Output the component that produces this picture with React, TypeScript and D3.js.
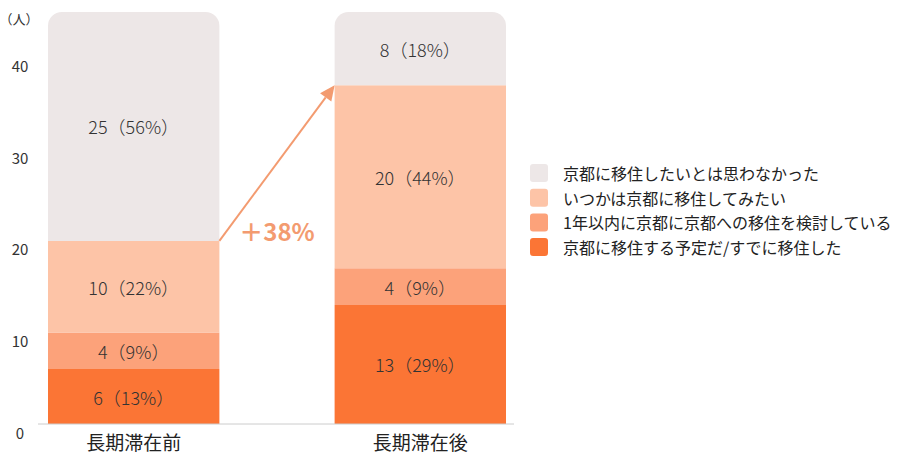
import React from 'react';
import * as d3 from 'd3';

const categories = ['長期滞在前', '長期滞在後'];
const seriesNames = [
  '京都に移住する予定だ/すでに移住した',
  '1年以内に京都に京都への移住を検討している',
  'いつかは京都に移住してみたい',
  '京都に移住したいとは思わなかった',
];
const seriesColors = ['#FB7535', '#FCA27A', '#FDC4A7', '#EDE7E7'];
const countsBefore = [6, 4, 10, 25];
const countsAfter = [13, 4, 20, 8];
const pctBefore = [13, 9, 22, 56];
const pctAfter = [29, 9, 44, 18];
const yTicks = [0, 10, 20, 30, 40];
const changeLabel = '＋38%';

const W = 906;
const H = 457;
const FONT = '"Noto Sans CJK JP", "Noto Sans", sans-serif';

const App: React.FC = () => {
  const y = d3.scaleLinear().domain([0, 45]).range([424, 12]);
  const x = d3.scaleBand().domain(categories).range([48, 506]).paddingInner(0.402).paddingOuter(0);
  const bw = x.bandwidth();
  const r = 14;

  const cols = [
    { name: categories[0], counts: countsBefore, pcts: pctBefore },
    { name: categories[1], counts: countsAfter, pcts: pctAfter },
  ];

  const stacked = cols.map(c => {
    const ends = d3.cumsum(c.counts);
    return c.counts.map((v, i) => ({ v, p: c.pcts[i], y0: ends[i] - v, y1: ends[i], i }));
  });

  const segPath = (x0: number, yTop: number, yBot: number, round: boolean) => {
    const p = d3.path();
    if (round) {
      p.moveTo(x0, yBot);
      p.lineTo(x0, yTop + r);
      p.arcTo(x0, yTop, x0 + r, yTop, r);
      p.lineTo(x0 + bw - r, yTop);
      p.arcTo(x0 + bw, yTop, x0 + bw, yTop + r, r);
      p.lineTo(x0 + bw, yBot);
      p.closePath();
    } else {
      p.rect(x0, yTop, bw, yBot - yTop);
    }
    return p.toString();
  };

  // arrow from top of "interested" group before to top of the same group after
  const leftX = (x(categories[0]) || 0) + bw;
  const rightX = x(categories[1]) || 0;
  const aStart: [number, number] = [leftX, y(d3.sum(countsBefore.slice(0, 3)))];
  const aEnd: [number, number] = [rightX, y(d3.sum(countsAfter.slice(0, 3)))];
  const ang = Math.atan2(aEnd[1] - aStart[1], aEnd[0] - aStart[0]);
  const hl = 15;
  const hw = 7;
  const bx = aEnd[0] - hl * Math.cos(ang);
  const by = aEnd[1] - hl * Math.sin(ang);
  const head = [
    aEnd,
    [bx + hw * Math.sin(ang), by - hw * Math.cos(ang)],
    [bx - hw * Math.sin(ang), by + hw * Math.cos(ang)],
  ];
  const arrowColor = '#F39B70';

  return (
    <svg width={W} height={H} style={{ position: 'absolute', left: 0, top: 0 }} fontFamily={FONT}>
      <rect width={W} height={H} fill="#fff" />
      {yTicks.map(t => (
        <text key={t} x={20} y={y(t) + 8} textAnchor="middle" dominantBaseline="central" fontSize={15} fill="#333">
          {t}
        </text>
      ))}
      <text x={19} y={18} textAnchor="middle" dominantBaseline="central" fontSize={13} fill="#333">（人）</text>

      {stacked.map((segs, ci) => {
        const x0 = x(categories[ci]) || 0;
        return (
          <g key={ci}>
            {segs.map(s => (
              <path key={s.i} d={segPath(x0, y(s.y1), y(s.y0), s.i === segs.length - 1)} fill={seriesColors[s.i]} />
            ))}
            {segs.map(s => (
              <text
                key={'t' + s.i}
                x={x0 + bw / 2}
                y={(y(s.y1) + y(s.y0)) / 2}
                textAnchor="middle"
                dominantBaseline="central"
                fontSize={18}
                fontWeight={300}
                fill="#333"
              >
                {`${s.v}（${s.p}%）`}
              </text>
            ))}
            <text x={x0 + bw / 2} y={441} textAnchor="middle" dominantBaseline="central" fontSize={19} fill="#222">
              {categories[ci]}
            </text>
          </g>
        );
      })}

      <line x1={38} x2={514} y1={y(0)} y2={y(0)} stroke="#ccc" strokeWidth={1} />

      <line x1={aStart[0]} y1={aStart[1]} x2={bx} y2={by} stroke={arrowColor} strokeWidth={2} />
      <polygon points={head.map(p => p.join(',')).join(' ')} fill={arrowColor} />
      <text x={277} y={230} textAnchor="middle" dominantBaseline="central" fontSize={24} fontWeight="bold" fill={arrowColor}>
        {changeLabel}
      </text>

      {seriesNames.slice().reverse().map((n, k) => {
        const i = seriesNames.length - 1 - k;
        const ly = 173 + k * 24.7;
        return (
          <g key={n}>
            <rect x={530} y={ly - 9} width={18} height={18} rx={3} fill={seriesColors[i]} />
            <text x={563} y={ly} dominantBaseline="central" fontSize={16} fill="#222">{n}</text>
          </g>
        );
      })}
    </svg>
  );
};

export default App;
